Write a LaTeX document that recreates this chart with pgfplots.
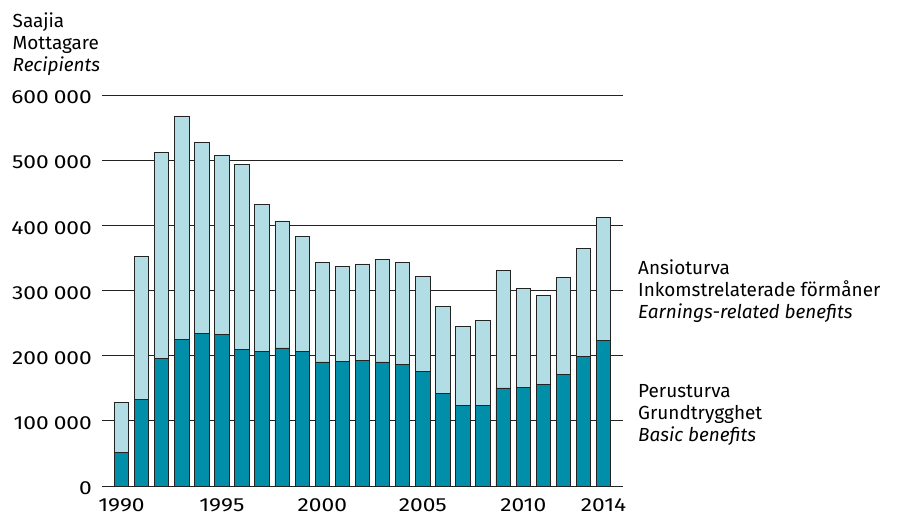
\documentclass[border=0pt]{standalone}
\usepackage{pgfplots}
\pgfplotsset{compat=1.18}
\usepackage{fontspec}
\setmainfont{Fira Sans}
\newfontfamily\numfont[FakeStretch=1.2]{Fira Sans}
\definecolor{basic}{RGB}{0,142,168}
\definecolor{earn}{RGB}{178,221,228}
\definecolor{edge}{RGB}{35,35,35}
\newcommand{\lab}{\fontsize{19}{22}\selectfont}
\newcommand{\gap}{\hspace{5bp}}
\begin{document}
\begin{tikzpicture}
\useasboundingbox (0,0) rectangle (913bp,-515bp);
\begin{axis}[
at={(102bp,-486bp)}, anchor=south west,
scale only axis,
width=520.5bp, height=391bp,
xmin=1989.03, xmax=2014.94,
ymin=0, ymax=600000,
scaled y ticks=false,
ybar stacked,
bar width=14.4bp,
axis line style={draw=none},
major tick length=0pt,
ymajorgrids,
grid style={edge, line width=0.9bp},
ytick={0,100000,200000,300000,400000,500000,600000},
yticklabels={0,100\gap000,200\gap000,300\gap000,400\gap000,500\gap000,600\gap000},
xtick={1990,1995,2000,2005,2010,2014},
xticklabels={1990,1995,2000,2005,2010,2014},
tick label style={font=\numfont\lab},
yticklabel style={anchor=east, inner sep=0pt, xshift=-10bp, yshift=-2.5bp},
xticklabel style={anchor=north, inner sep=0pt, yshift=-12bp},
every axis plot/.append style={draw=edge, line width=0.9bp},
clip=false,
]
\addplot[fill=basic] coordinates {
(1990,51100) (1991,133500) (1992,195400) (1993,224500) (1994,234300)
(1995,232200) (1996,209200) (1997,206700) (1998,211800) (1999,206100)
(2000,190300) (2001,190800) (2002,192300) (2003,190300) (2004,187200)
(2005,175400) (2006,141700) (2007,124300) (2008,124300) (2009,150400)
(2010,150900) (2011,155500) (2012,170800) (2013,199500) (2014,223600)
};
\addplot[fill=earn] coordinates {
(1990,77300) (1991,218400) (1992,316700) (1993,343300) (1994,293100)
(1995,275700) (1996,283900) (1997,226000) (1998,194900) (1999,176500)
(2000,153400) (2001,145800) (2002,148400) (2003,157600) (2004,155500)
(2005,146400) (2006,133400) (2007,120200) (2008,129900) (2009,180000)
(2010,151900) (2011,137100) (2012,149900) (2013,165300) (2014,189200)
};
\end{axis}
\node[anchor=base west, inner sep=0pt] at (12.5bp,-27bp) {\lab Saajia};
\node[anchor=base west, inner sep=0pt] at (12.5bp,-49bp) {\lab Mottagare};
\node[anchor=base west, inner sep=0pt] at (12.5bp,-71bp) {\lab\itshape Recipients};
\node[anchor=base west, inner sep=0pt] at (638bp,-274bp) {\lab Ansioturva};
\node[anchor=base west, inner sep=0pt] at (638bp,-296bp) {\lab Inkomstrelaterade förmåner};
\node[anchor=base west, inner sep=0pt] at (638bp,-318bp) {\lab\itshape Earnings-related benefits};
\node[anchor=base west, inner sep=0pt] at (638bp,-397bp) {\lab Perusturva};
\node[anchor=base west, inner sep=0pt] at (638bp,-419bp) {\lab Grundtrygghet};
\node[anchor=base west, inner sep=0pt] at (638bp,-441bp) {\lab\itshape Basic benefits};
\end{tikzpicture}
\end{document}
